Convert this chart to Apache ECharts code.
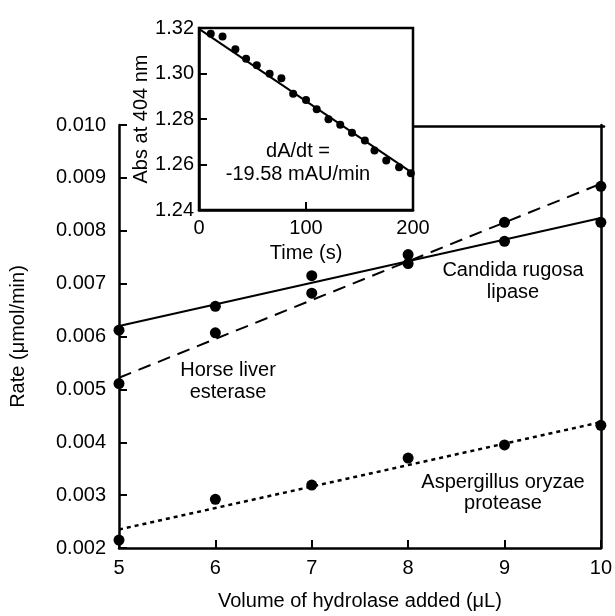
<!DOCTYPE html>
<html>
<head>
<meta charset="utf-8">
<script src="https://cdn.jsdelivr.net/npm/echarts@6/dist/echarts.min.js"></script>
<style>html,body{margin:0;padding:0;background:#fff}#chart{width:615px;height:616px}</style>
</head>
<body>
<div id="chart"></div>
<script>
// main plot: rate vs volume of hydrolase
var volume = [5, 6, 7, 8, 9, 10];
var candida = [0.00612, 0.00657, 0.00715, 0.00738, 0.00780, 0.00816];
var horse = [0.00511, 0.00607, 0.00682, 0.00755, 0.00816, 0.00884];
var asper = [0.00215, 0.00292, 0.00319, 0.00370, 0.00395, 0.00432];
// fitted lines, end points
var fitX = [5, 10];
var candidaFit = [0.00620, 0.00824];
var horseFit = [0.00522, 0.00889];
var asperFit = [0.00235, 0.00438];
// inset: absorbance at 404 nm vs time
var time = [11, 22, 34, 44, 54, 66, 77, 88, 100, 110, 121, 132, 143, 155, 164, 175, 187, 198];
var absorb = [1.3175, 1.3163, 1.3107, 1.3065, 1.3036, 1.2999, 1.2979, 1.2911, 1.2884, 1.2843, 1.2799, 1.2775, 1.2740, 1.2705, 1.2661, 1.2618, 1.2588, 1.2561];
var absFitX = [0, 200];
var absFit = [1.3196, 1.2561];

var font = '"Liberation Sans", Arial, Helvetica, sans-serif';

function pairs(xs, ys) {
    return xs.map(function (x, i) { return [x, ys[i]]; });
}

var line = { lineStyle: { color: '#000', width: 2.5 } };
var tick = { inside: true, length: 8, lineStyle: { color: '#000', width: 2 } };
var label = { color: '#000', fontSize: 20, fontFamily: font };
var nameStyle = { color: '#000', fontSize: 20, fontFamily: font };
var dot = { color: '#000', opacity: 1 };

var chart = echarts.init(document.getElementById('chart'));
chart.setOption({
    animation: false,
    textStyle: { fontFamily: font, color: '#000' },
    grid: [
        { left: 118, right: 11, top: 125, bottom: 64 },
        { left: 199, right: 202, top: 28, bottom: 406, show: true, backgroundColor: '#fff', borderColor: '#000', borderWidth: 2.5, z: 5 },
        { left: 413, right: 11, top: 125, height: 1 } // top edge of main frame, right of the inset
    ],
    xAxis: [{
        gridIndex: 0, type: 'value', min: 5, max: 10, interval: 1,
        name: 'Volume of hydrolase added (μL)', nameLocation: 'middle', nameGap: 43, nameTextStyle: nameStyle,
        axisLine: line, axisTick: tick, axisLabel: Object.assign({ margin: 10 }, label),
        splitLine: { show: false }
    }, {
        gridIndex: 1, type: 'value', min: 0, max: 200, interval: 100, z: 6,
        name: 'Time (s)', nameLocation: 'middle', nameGap: 33, nameTextStyle: nameStyle,
        axisLine: line, axisTick: tick, axisLabel: Object.assign({ margin: 8 }, label),
        splitLine: { show: false }
    }, {
        gridIndex: 2, type: 'value', position: 'top', min: 0, max: 1,
        axisLine: line, axisTick: { show: false }, axisLabel: { show: false }, splitLine: { show: false }
    }],
    yAxis: [{
        gridIndex: 0, type: 'value', min: 0.002, max: 0.010, interval: 0.001,
        name: 'Rate (μmol/min)', nameLocation: 'middle', nameGap: 91, nameTextStyle: nameStyle,
        axisLine: line, axisTick: tick,
        axisLabel: Object.assign({ margin: 13, formatter: function (v) { return v.toFixed(3); } }, label),
        splitLine: { show: false }
    }, {
        gridIndex: 0, type: 'value', position: 'right', min: 0.002, max: 0.010,
        axisLine: line, axisTick: { show: false }, axisLabel: { show: false }, splitLine: { show: false }
    }, {
        gridIndex: 1, type: 'value', min: 1.24, max: 1.32, interval: 0.02, z: 6,
        name: 'Abs at 404 nm', nameLocation: 'middle', nameGap: 46, nameTextStyle: nameStyle,
        axisLine: line, axisTick: tick,
        axisLabel: Object.assign({ margin: 5, formatter: function (v) { return v.toFixed(2); } }, label),
        splitLine: { show: false }
    }, {
        gridIndex: 2, type: 'value', show: false, min: 0, max: 1
    }],
    series: [
        { type: 'line', data: pairs(fitX, candidaFit), showSymbol: false, lineStyle: { color: '#000', width: 2 } },
        { type: 'line', data: pairs(fitX, horseFit), showSymbol: false, lineStyle: { color: '#000', width: 2, type: [13, 8] } },
        { type: 'line', data: pairs(fitX, asperFit), showSymbol: false, lineStyle: { color: '#000', width: 2.5, type: [4, 4] } },
        { type: 'scatter', data: pairs(volume, candida), symbolSize: 11, itemStyle: dot },
        { type: 'scatter', data: pairs(volume, horse), symbolSize: 11, itemStyle: dot },
        { type: 'scatter', data: pairs(volume, asper), symbolSize: 11, itemStyle: dot },
        { type: 'line', xAxisIndex: 1, yAxisIndex: 2, z: 7, data: pairs(absFitX, absFit), showSymbol: false, lineStyle: { color: '#000', width: 2 } },
        { type: 'scatter', xAxisIndex: 1, yAxisIndex: 2, z: 7, data: pairs(time, absorb), symbolSize: 8, itemStyle: dot }
    ],
    graphic: [
        { type: 'text', x: 298, y: 163, z: 10, style: { text: 'dA/dt =\n-19.58 mAU/min', fontSize: 20, fontFamily: font, fill: '#000', align: 'center', verticalAlign: 'middle', lineHeight: 23 } },
        { type: 'text', x: 513, y: 281, z: 10, style: { text: 'Candida rugosa\nlipase', fontSize: 20, fontFamily: font, fill: '#000', align: 'center', verticalAlign: 'middle', lineHeight: 22 } },
        { type: 'text', x: 228, y: 381, z: 10, style: { text: 'Horse liver\nesterase', fontSize: 20, fontFamily: font, fill: '#000', align: 'center', verticalAlign: 'middle', lineHeight: 22 } },
        { type: 'text', x: 503, y: 493, z: 10, style: { text: 'Aspergillus oryzae\nprotease', fontSize: 20, fontFamily: font, fill: '#000', align: 'center', verticalAlign: 'middle', lineHeight: 21 } }
    ]
});
</script>
</body>
</html>
